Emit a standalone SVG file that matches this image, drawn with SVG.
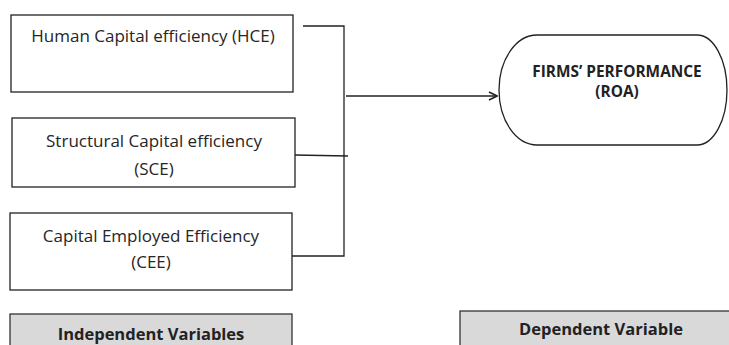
<svg xmlns="http://www.w3.org/2000/svg" width="729" height="345" viewBox="0 0 729 345">
<defs>
<style>
.box{fill:#fff;stroke:#222;stroke-width:1.3}
.label{fill:#d9d9d9;stroke:#333;stroke-width:1.3}
.t{font-family:"Open Sans","Liberation Sans",sans-serif;font-size:17px;fill:#262626;text-anchor:middle}
.b{font-family:"Open Sans","Liberation Sans",sans-serif;font-size:16.5px;font-weight:bold;fill:#222;text-anchor:middle}
.r{font-size:15.4px}
.c{fill:none;stroke:#222;stroke-width:1.3}
</style>
<marker id="arr" viewBox="0 0 10 10" refX="9" refY="5" markerWidth="10" markerHeight="10" markerUnits="userSpaceOnUse" orient="auto">
<path d="M1,1 L9,5 L1,9" fill="none" stroke="#222" stroke-width="1.6"/>
</marker>
</defs>
<rect width="729" height="345" fill="#fff"/>
<g id="hce">
<rect class="box" x="11" y="15" width="282" height="77"/>
<text class="t" x="153" y="42">Human Capital efficiency (HCE)</text>
</g>
<g id="sce">
<rect class="box" x="12" y="118" width="283" height="69"/>
<text class="t" x="154" y="147">Structural Capital efficiency</text>
<text class="t" x="154" y="175">(SCE)</text>
</g>
<g id="cee">
<rect class="box" x="10" y="213" width="282" height="77"/>
<text class="t" x="151" y="242">Capital Employed Efficiency</text>
<text class="t" x="151" y="268">(CEE)</text>
</g>
<g id="roa">
<path class="box" d="M537,35 L697,35 A30,55 0 0 1 697,145 L537,145 A38,55 0 0 1 537,35 Z"/>
<text class="b r" x="617" y="77">FIRMS’ PERFORMANCE</text>
<text class="b r" x="617" y="97">(ROA)</text>
</g>
<g id="independent">
<rect class="label" x="10" y="314" width="282" height="40"/>
<text class="b" x="151" y="340">Independent Variables</text>
</g>
<g id="dependent">
<rect class="label" x="460" y="311" width="280" height="40"/>
<text class="b" x="601" y="335">Dependent Variable</text>
</g>
<g id="connectors">
<polyline class="c" points="303,26 344,26 344,256 292,256"/>
<line class="c" x1="295" y1="155" x2="348" y2="156"/>
<line class="c" x1="346" y1="96" x2="497" y2="96" marker-end="url(#arr)"/>
</g>
</svg>
